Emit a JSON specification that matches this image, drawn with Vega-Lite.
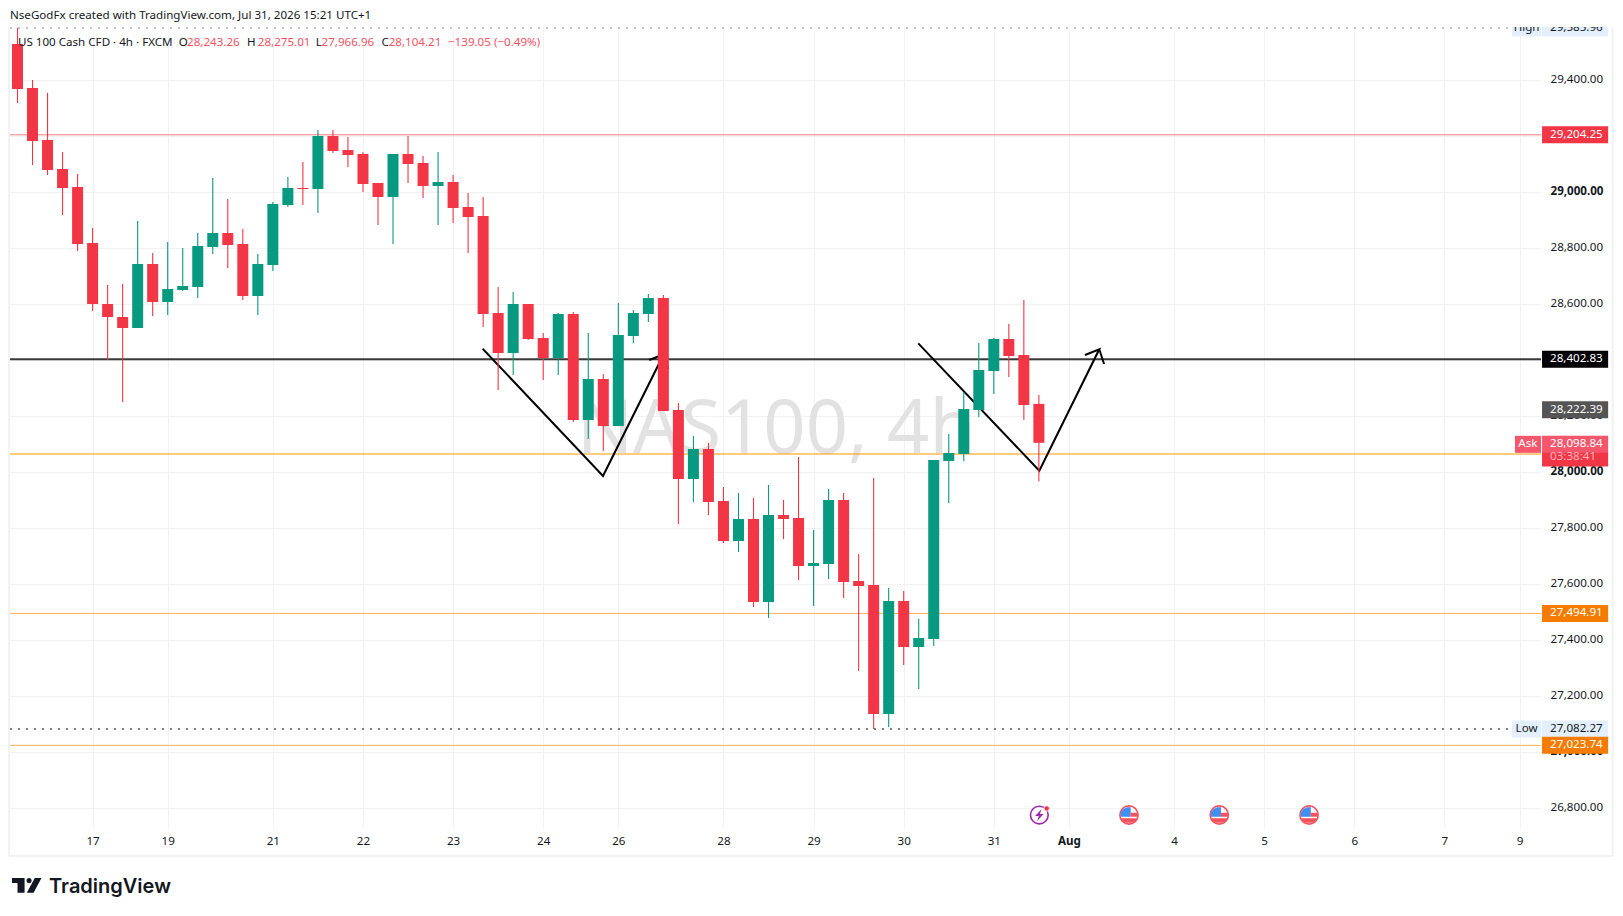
{
  "$schema": "https://vega.github.io/schema/vega-lite/v6.json",
  "width": 1531,
  "height": 800.5,
  "autosize": {"type": "none"},
  "padding": {"left": 10, "top": 27, "right": 82, "bottom": 88.5},
  "background": "white",
  "config": {
    "view": {"stroke": null},
    "font": "Noto Sans",
    "text": {"font": "Noto Sans", "fontSize": 11.6, "color": "#131722"}
  },
  "datasets": {
    "candles": [
      {"i":0,"open":29528.6,"high":29585.96,"low":29317.8,"close":29367.9},
      {"i":1,"open":29371.4,"high":29400,"low":29096.4,"close":29182.1},
      {"i":2,"open":29185.7,"high":29353.6,"low":29060.7,"close":29078.6},
      {"i":3,"open":29082.1,"high":29142.8,"low":28917.9,"close":29014.3},
      {"i":4,"open":29017.8,"high":29064.3,"low":28789.3,"close":28814.3},
      {"i":5,"open":28817.9,"high":28871.4,"low":28575,"close":28600},
      {"i":6,"open":28600,"high":28667.9,"low":28400,"close":28553.6},
      {"i":7,"open":28553.6,"high":28671.4,"low":28250,"close":28514.3},
      {"i":8,"open":28514.3,"high":28896.4,"low":28514.3,"close":28742.9},
      {"i":9,"open":28742.9,"high":28782.1,"low":28557.1,"close":28607.1},
      {"i":10,"open":28607.1,"high":28821.4,"low":28560.7,"close":28653.6},
      {"i":11,"open":28650,"high":28800,"low":28646.4,"close":28664.3},
      {"i":12,"open":28660.7,"high":28853.6,"low":28621.4,"close":28807.1},
      {"i":13,"open":28803.6,"high":29050,"low":28778.6,"close":28853.6},
      {"i":14,"open":28853.6,"high":28975,"low":28728.6,"close":28810.7},
      {"i":15,"open":28814.3,"high":28867.9,"low":28614.3,"close":28628.6},
      {"i":16,"open":28628.6,"high":28778.6,"low":28560.7,"close":28742.9},
      {"i":17,"open":28739.3,"high":28964.3,"low":28717.9,"close":28957.1},
      {"i":18,"open":28953.6,"high":29053.6,"low":28946.4,"close":29014.3},
      {"i":19,"open":29014.3,"high":29107.1,"low":28953.6,"close":29010.7},
      {"i":20,"open":29010.7,"high":29221.4,"low":28925,"close":29200},
      {"i":21,"open":29200,"high":29221.4,"low":29139.3,"close":29146.4},
      {"i":22,"open":29150,"high":29196.4,"low":29089.3,"close":29132.1},
      {"i":23,"open":29135.7,"high":29142.8,"low":29000,"close":29028.6},
      {"i":24,"open":29032.1,"high":29032.1,"low":28882.1,"close":28982.1},
      {"i":25,"open":28982.1,"high":29135.7,"low":28814.3,"close":29135.7},
      {"i":26,"open":29135.7,"high":29200,"low":29032.1,"close":29100},
      {"i":27,"open":29103.6,"high":29128.6,"low":28978.6,"close":29021.4},
      {"i":28,"open":29021.4,"high":29142.8,"low":28882.1,"close":29035.7},
      {"i":29,"open":29035.7,"high":29060.7,"low":28889.3,"close":28942.9},
      {"i":30,"open":28946.4,"high":28996.4,"low":28782.1,"close":28910.7},
      {"i":31,"open":28914.3,"high":28982.1,"low":28517.9,"close":28564.3},
      {"i":32,"open":28567.9,"high":28660.7,"low":28292.9,"close":28425},
      {"i":33,"open":28425,"high":28642.9,"low":28346.4,"close":28600},
      {"i":34,"open":28600,"high":28600,"low":28471.4,"close":28475},
      {"i":35,"open":28478.6,"high":28496.4,"low":28328.6,"close":28407.1},
      {"i":36,"open":28407.1,"high":28567.9,"low":28346.4,"close":28564.3},
      {"i":37,"open":28564.3,"high":28571.4,"low":28178.6,"close":28185.7},
      {"i":38,"open":28185.7,"high":28496.4,"low":28117.9,"close":28332.1},
      {"i":39,"open":28332.1,"high":28350,"low":28075,"close":28164.3},
      {"i":40,"open":28164.3,"high":28603.6,"low":28164.3,"close":28489.3},
      {"i":41,"open":28485.7,"high":28578.6,"low":28460.7,"close":28567.9},
      {"i":42,"open":28564.3,"high":28635.7,"low":28535.7,"close":28621.4},
      {"i":43,"open":28621.4,"high":28632.1,"low":28217.9,"close":28217.9},
      {"i":44,"open":28221.4,"high":28246.4,"low":27814.3,"close":27975},
      {"i":45,"open":27975,"high":28128.6,"low":27892.9,"close":28082.1},
      {"i":46,"open":28082.1,"high":28103.6,"low":27846.4,"close":27892.9},
      {"i":47,"open":27896.4,"high":27946.4,"low":27746.4,"close":27753.6},
      {"i":48,"open":27753.6,"high":27925,"low":27714.3,"close":27832.1},
      {"i":49,"open":27832.1,"high":27907.1,"low":27517.9,"close":27535.7},
      {"i":50,"open":27535.7,"high":27953.6,"low":27478.6,"close":27846.4},
      {"i":51,"open":27846.4,"high":27900,"low":27760.7,"close":27832.1},
      {"i":52,"open":27835.7,"high":28053.6,"low":27614.3,"close":27664.3},
      {"i":53,"open":27664.3,"high":27792.9,"low":27521.4,"close":27675},
      {"i":54,"open":27671.4,"high":27939.3,"low":27617.9,"close":27900},
      {"i":55,"open":27900,"high":27925,"low":27550,"close":27607.1},
      {"i":56,"open":27610.7,"high":27707.1,"low":27289.3,"close":27592.9},
      {"i":57,"open":27596.4,"high":27978.6,"low":27082.27,"close":27135.7},
      {"i":58,"open":27135.7,"high":27585.7,"low":27089.3,"close":27539.3},
      {"i":59,"open":27539.3,"high":27575,"low":27310.7,"close":27375},
      {"i":60,"open":27375,"high":27475,"low":27225,"close":27407.1},
      {"i":61,"open":27403.6,"high":28042.9,"low":27378.6,"close":28042.9},
      {"i":62,"open":28039.3,"high":28135.7,"low":27889.3,"close":28067.9},
      {"i":63,"open":28064.3,"high":28285.7,"low":28039.3,"close":28225},
      {"i":64,"open":28221.4,"high":28460.7,"low":28196.4,"close":28364.3},
      {"i":65,"open":28360.7,"high":28478.6,"low":28278.6,"close":28475},
      {"i":66,"open":28475,"high":28528.6,"low":28339.3,"close":28414.3},
      {"i":67,"open":28417.9,"high":28614.3,"low":28185.7,"close":28239.3},
      {"i":68,"open":28243.26,"high":28275.01,"low":27966.96,"close":28104.21}
    ],
    "levels": [
      {"price":29204.25,"kind":"resistance"},
      {"price":28064.3,"kind":"ask"},
      {"price":27494.91,"kind":"support"},
      {"price":27023.74,"kind":"support"}
    ],
    "extremes": [
      {"price":29585.96,"label":"29,585.96","name":"High"},
      {"price":27082.27,"label":"27,082.27","name":"Low"}
    ],
    "drawings": [
      {"path":"a","seq":1,"i":30.97,"price":28440.4},
      {"path":"a","seq":2,"i":38.98,"price":27985.7},
      {"path":"a","seq":3,"i":43.02,"price":28420.4},
      {"path":"a","seq":4,"i":42.06,"price":28400},
      {"path":"a","seq":5,"i":43.02,"price":28420.4},
      {"path":"a","seq":6,"i":43.33,"price":28367.9},
      {"path":"b","seq":1,"i":59.97,"price":28459.6},
      {"path":"b","seq":2,"i":68.03,"price":28004.6},
      {"path":"b","seq":3,"i":72.02,"price":28438.2},
      {"path":"b","seq":4,"i":71.07,"price":28417.9},
      {"path":"b","seq":5,"i":72.02,"price":28438.2},
      {"path":"b","seq":6,"i":72.34,"price":28385.7}
    ],
    "tags": [
      {"price":29204.25,"label":"29,204.25","kind":"resistance"},
      {"price":28402.83,"label":"28,402.83","kind":"key"},
      {"price":28222.39,"label":"28,222.39","kind":"prior"},
      {"price":28098.84,"label":"28,098.84","kind":"ask"},
      {"price":27494.91,"label":"27,494.91","kind":"support"},
      {"price":27023.74,"label":"27,023.74","kind":"support"}
    ],
    "frame": [
      {"i":-0.566,"i2":-0.566,"price":29589.3,"price2":26628.6},
      {"i":-0.566,"i2":106.2,"price":26628.6,"price2":26628.6},
      {"i":106.2,"i2":106.2,"price":29589.3,"price2":26628.6}
    ],
    "events": [
      {"i":68.03,"price":26774.9,"kind":"bolt"},
      {"i":74,"price":26774.9,"kind":"flag"},
      {"i":80.01,"price":26774.9,"kind":"flag"},
      {"i":85.99,"price":26774.9,"kind":"flag"}
    ],
    "legend_dark": [
      {"i":-0.5,"price":29629.6,"text":"NseGodFx created with TradingView.com, Jul 31, 2026 15:21 UTC+1"},
      {"i":0.03,"price":29533.2,"text":"US 100 Cash CFD · 4h · FXCM"},
      {"i":10.73,"price":29533.2,"text":"O"},
      {"i":15.28,"price":29533.2,"text":"H"},
      {"i":19.85,"price":29533.2,"text":"L"},
      {"i":24.23,"price":29533.2,"text":"C"}
    ],
    "legend_red": [
      {"i":11.29,"price":29533.2,"text":"28,243.26"},
      {"i":16.0,"price":29533.2,"text":"28,275.01"},
      {"i":20.24,"price":29533.2,"text":"27,966.96"},
      {"i":24.71,"price":29533.2,"text":"28,104.21"},
      {"i":28.66,"price":29533.2,"text":"−139.05 (−0.49%)"}
    ]
  },
  "layer": [
    {
      "data": {"values": [{"i": 50.5, "price": 28067.9, "text": "NAS100, 4h"}]},
      "mark": {"type": "text", "font": "Noto Sans", "fontSize": 74, "color": "#e2e2e2", "align": "center", "baseline": "alphabetic"},
      "encoding": {
        "x": {
          "field": "i",
          "type": "quantitative",
          "scale": {"domain": [-0.5, 101.43], "nice": false, "zero": false, "padding": 0},
          "axis": {
            "title": null,
            "domain": false,
            "ticks": false,
            "grid": true,
            "gridColor": "#f2f2f2",
            "gridWidth": 1,
            "values": [5,10,17,23,29,35,40,47,53,59,65,70,77,83,89,95,100],
            "labelExpr": "{5:'17',10:'19',17:'21',23:'22',29:'23',35:'24',40:'26',47:'28',53:'29',59:'30',65:'31',70:'Aug',77:'4',83:'5',89:'6',95:'7',100:'9'}[datum.value]",
            "labelFont": "Noto Sans",
            "labelFontSize": 11.6,
            "labelColor": "#131722",
            "labelFontWeight": {"condition": {"test": "datum.value === 70", "value": "bold"}, "value": "normal"},
            "labelPadding": 8,
            "labelOverlap": false,
            "labelBound": false,
            "labelFlush": false
          }
        },
        "y": {
          "field": "price",
          "type": "quantitative",
          "scale": {"domain": [26730.4, 29589.3], "nice": false, "zero": false, "padding": 0},
          "axis": {
            "title": null,
            "orient": "right",
            "domain": false,
            "ticks": false,
            "grid": true,
            "gridColor": "#f2f2f2",
            "gridWidth": 1,
            "values": [26800,27000,27200,27400,27600,27800,28000,28200,28400,28600,28800,29000,29200,29400],
            "format": ",.2f",
            "labelFont": "Noto Sans",
            "labelFontSize": 11.6,
            "labelColor": "#131722",
            "labelAlign": "left",
            "labelPadding": 9,
            "labelOffset": -1,
            "labelFontWeight": {"condition": {"test": "datum.value % 1000 === 0", "value": "bold"}, "value": "normal"},
            "labelOverlap": false,
            "labelBound": false,
            "labelFlush": false
          }
        },
        "text": {"field": "text"}
      }
    },
    {
      "data": {"name": "levels"},
      "mark": {"type": "rule", "strokeWidth": 1},
      "encoding": {
        "x": {"datum": -0.5, "type": "quantitative"},
        "x2": {"datum": 101.43},
        "y": {"field": "price", "type": "quantitative"},
        "stroke": {
          "field": "kind",
          "type": "nominal",
          "legend": null,
          "scale": {"domain": ["resistance", "ask", "support"], "range": ["#f77c80", "#ff9800", "#ffb05c"]}
        }
      }
    },
    {
      "data": {"values": [{"price": 28402.83}]},
      "mark": {"type": "rule", "strokeWidth": 2, "color": "#3a3a3a"},
      "encoding": {
        "x": {"datum": -0.5, "type": "quantitative"},
        "x2": {"datum": 101.43},
        "y": {"field": "price", "type": "quantitative"}
      }
    },
    {
      "data": {"name": "extremes"},
      "mark": {"type": "rule", "strokeWidth": 2, "strokeDash": [2, 6]},
      "encoding": {
        "x": {"datum": -0.5, "type": "quantitative"},
        "x2": {"datum": 99.3},
        "y": {"field": "price", "type": "quantitative"},
        "color": {"condition": {"test": "datum.name === 'High'", "value": "#c4c4c4"}, "value": "#808080"}
      }
    },
    {
      "data": {"name": "drawings"},
      "mark": {"type": "line", "strokeWidth": 2, "color": "#000000", "strokeJoin": "miter"},
      "encoding": {
        "x": {"field": "i", "type": "quantitative"},
        "y": {"field": "price", "type": "quantitative"},
        "detail": {"field": "path"},
        "order": {"field": "seq", "type": "quantitative"}
      }
    },
    {
      "data": {"name": "candles"},
      "mark": {"type": "rule", "strokeWidth": 1.1},
      "encoding": {
        "x": {"field": "i", "type": "quantitative"},
        "y": {"field": "low", "type": "quantitative"},
        "y2": {"field": "high"},
        "color": {"condition": {"test": "datum.close >= datum.open", "value": "#089981"}, "value": "#f23645"}
      }
    },
    {
      "data": {"name": "candles"},
      "mark": {"type": "bar", "size": 11},
      "encoding": {
        "x": {"field": "i", "type": "quantitative"},
        "y": {"field": "open", "type": "quantitative"},
        "y2": {"field": "close"},
        "color": {"condition": {"test": "datum.close >= datum.open", "value": "#089981"}, "value": "#f23645"}
      }
    },
    {
      "data": {"name": "extremes"},
      "mark": {"type": "bar", "orient": "horizontal", "size": 17, "color": "#e3effd"},
      "encoding": {
        "x": {"datum": 101.5, "type": "quantitative"},
        "x2": {"datum": 105.9},
        "y": {"field": "price", "type": "quantitative"}
      }
    },
    {
      "data": {"name": "extremes"},
      "mark": {"type": "bar", "orient": "horizontal", "size": 17, "color": "#e3effd"},
      "encoding": {
        "x": {"datum": 99.5, "type": "quantitative"},
        "x2": {"datum": 101.43},
        "y": {"field": "price", "type": "quantitative"}
      }
    },
    {
      "data": {"name": "extremes"},
      "mark": {"type": "text", "align": "left", "baseline": "middle", "color": "#131722"},
      "encoding": {
        "x": {"datum": 102.03, "type": "quantitative"},
        "y": {"field": "price", "type": "quantitative"},
        "text": {"field": "label"}
      }
    },
    {
      "data": {"name": "extremes"},
      "mark": {"type": "text", "align": "center", "baseline": "middle", "color": "#131722"},
      "encoding": {
        "x": {"datum": 100.47, "type": "quantitative"},
        "y": {"field": "price", "type": "quantitative"},
        "text": {"field": "name"}
      }
    },
    {
      "data": {"values": [{"price": 28046.4}]},
      "mark": {"type": "bar", "orient": "horizontal", "size": 15, "color": "#f23645"},
      "encoding": {
        "x": {"datum": 101.5, "type": "quantitative"},
        "x2": {"datum": 105.9},
        "y": {"field": "price", "type": "quantitative"}
      }
    },
    {
      "data": {"name": "tags"},
      "mark": {"type": "bar", "orient": "horizontal", "size": 17},
      "encoding": {
        "x": {"datum": 101.5, "type": "quantitative"},
        "x2": {"datum": 105.9},
        "y": {"field": "price", "type": "quantitative"},
        "fill": {
          "field": "kind",
          "type": "nominal",
          "legend": null,
          "scale": {
            "domain": ["resistance", "key", "prior", "ask", "support"],
            "range": ["#f23645", "#000000", "#555555", "#f4566b", "#f57c00"]
          }
        }
      }
    },
    {
      "data": {"values": [{"price": 28053.6, "text": "03:38:41"}]},
      "mark": {"type": "text", "align": "left", "baseline": "middle", "color": "#ffb4bc"},
      "encoding": {
        "x": {"datum": 102.03, "type": "quantitative"},
        "y": {"field": "price", "type": "quantitative"},
        "text": {"field": "text"}
      }
    },
    {
      "data": {"name": "tags"},
      "mark": {"type": "text", "align": "left", "baseline": "middle", "color": "#ffffff"},
      "encoding": {
        "x": {"datum": 102.03, "type": "quantitative"},
        "y": {"field": "price", "type": "quantitative"},
        "text": {"field": "label"}
      }
    },
    {
      "data": {"values": [{"price": 28098.84, "text": "Ask"}]},
      "mark": {"type": "bar", "orient": "horizontal", "size": 17, "color": "#f4566b"},
      "encoding": {
        "x": {"datum": 99.7, "type": "quantitative"},
        "x2": {"datum": 101.43},
        "y": {"field": "price", "type": "quantitative"}
      }
    },
    {
      "data": {"values": [{"price": 28098.84, "text": "Ask"}]},
      "mark": {"type": "text", "align": "center", "baseline": "middle", "color": "#ffffff"},
      "encoding": {
        "x": {"datum": 100.56, "type": "quantitative"},
        "y": {"field": "price", "type": "quantitative"},
        "text": {"field": "text"}
      }
    },
    {
      "data": {"values": [{"price": 29589.3, "price2": 29685.7}]},
      "mark": {"type": "rect", "color": "#ffffff"},
      "encoding": {
        "x": {"datum": 95, "type": "quantitative"},
        "x2": {"datum": 107.9},
        "y": {"field": "price", "type": "quantitative"},
        "y2": {"field": "price2"}
      }
    },
    {
      "data": {"name": "frame"},
      "mark": {"type": "rule", "strokeWidth": 2, "color": "#f2f2f2"},
      "encoding": {
        "x": {"field": "i", "type": "quantitative"},
        "x2": {"field": "i2"},
        "y": {"field": "price", "type": "quantitative"},
        "y2": {"field": "price2"}
      }
    },
    {
      "data": {"name": "events"},
      "transform": [{"filter": "datum.kind === 'flag'"}],
      "mark": {"type": "point", "shape": "circle", "size": 333, "fill": "#ffffff", "stroke": "#f4525f", "strokeWidth": 1.6, "opacity": 1},
      "encoding": {
        "x": {"field": "i", "type": "quantitative"},
        "y": {"field": "price", "type": "quantitative"}
      }
    },
    {
      "data": {"name": "events"},
      "transform": [{"filter": "datum.kind === 'flag'"}],
      "mark": {"type": "point", "filled": true, "opacity": 1, "size": 455, "color": "#3f8ff0", "shape": "M-0.78 0.16 L-0.78 -0.25 L-0.55 -0.55 L-0.2 -0.72 L0.16 -0.72 L0.16 0.16 Z"},
      "encoding": {
        "x": {"field": "i", "type": "quantitative"},
        "y": {"field": "price", "type": "quantitative"}
      }
    },
    {
      "data": {"name": "events"},
      "transform": [{"filter": "datum.kind === 'flag'"}],
      "mark": {"type": "point", "filled": true, "opacity": 1, "size": 455, "color": "#f4525f", "shape": "M0.16 -0.22 L0.81 -0.22 L0.81 0.16 L0.16 0.16 Z M-0.75 0.31 L0.75 0.31 L0.55 0.62 L0.25 0.72 L-0.25 0.72 L-0.55 0.62 Z"},
      "encoding": {
        "x": {"field": "i", "type": "quantitative"},
        "y": {"field": "price", "type": "quantitative"}
      }
    },
    {
      "data": {"name": "events"},
      "transform": [{"filter": "datum.kind === 'bolt'"}],
      "mark": {"type": "point", "shape": "circle", "size": 314, "fill": "#ffffff", "stroke": "#9c27b0", "strokeWidth": 1.6, "opacity": 1},
      "encoding": {
        "x": {"field": "i", "type": "quantitative"},
        "y": {"field": "price", "type": "quantitative"}
      }
    },
    {
      "data": {"name": "events"},
      "transform": [{"filter": "datum.kind === 'bolt'"}],
      "mark": {"type": "point", "filled": true, "opacity": 1, "size": 455, "color": "#9c27b0", "shape": "M0.2 -0.55 L-0.4 0.1 L-0.05 0.1 L-0.2 0.55 L0.4 -0.1 L0.05 -0.1 Z"},
      "encoding": {
        "x": {"field": "i", "type": "quantitative"},
        "y": {"field": "price", "type": "quantitative"}
      }
    },
    {
      "data": {"name": "events"},
      "transform": [{"filter": "datum.kind === 'bolt'"}],
      "mark": {"type": "point", "filled": true, "opacity": 1, "size": 455, "color": "#f23645", "stroke": "#ffffff", "strokeWidth": 1, "shape": "M0.44 -0.62 a0.25 0.25 0 1 0 0.5 0 a0.25 0.25 0 1 0 -0.5 0 Z"},
      "encoding": {
        "x": {"field": "i", "type": "quantitative"},
        "y": {"field": "price", "type": "quantitative"}
      }
    },
    {
      "data": {"name": "legend_dark"},
      "mark": {"type": "text", "align": "left", "baseline": "middle", "color": "#131722"},
      "encoding": {
        "x": {"field": "i", "type": "quantitative"},
        "y": {"field": "price", "type": "quantitative"},
        "text": {"field": "text"}
      }
    },
    {
      "data": {"name": "legend_red"},
      "mark": {"type": "text", "align": "left", "baseline": "middle", "color": "#f7525f"},
      "encoding": {
        "x": {"field": "i", "type": "quantitative"},
        "y": {"field": "price", "type": "quantitative"},
        "text": {"field": "text"}
      }
    },
    {
      "data": {"values": [{"i": 0.62, "price": 26523.9}]},
      "mark": {"type": "point", "filled": true, "opacity": 1, "size": 900, "color": "#131722", "shape": "M-0.99 -0.49 L-0.15 -0.49 L-0.15 0.49 L-0.62 0.49 L-0.62 -0.15 L-0.99 -0.15 Z M-0.02 -0.31 a0.17 0.17 0 1 0 0.34 0 a0.17 0.17 0 1 0 -0.34 0 Z M0.53 -0.49 L0.98 -0.49 L0.45 0.49 L0 0.49 Z"},
      "encoding": {
        "x": {"field": "i", "type": "quantitative"},
        "y": {"field": "price", "type": "quantitative"}
      }
    },
    {
      "data": {"values": [{"i": 2.1, "price": 26495.3, "text": "TradingView"}]},
      "mark": {"type": "text", "font": "Inter", "fontSize": 20, "fontWeight": 600, "align": "left", "baseline": "alphabetic", "color": "#131722"},
      "encoding": {
        "x": {"field": "i", "type": "quantitative"},
        "y": {"field": "price", "type": "quantitative"},
        "text": {"field": "text"}
      }
    }
  ]
}
